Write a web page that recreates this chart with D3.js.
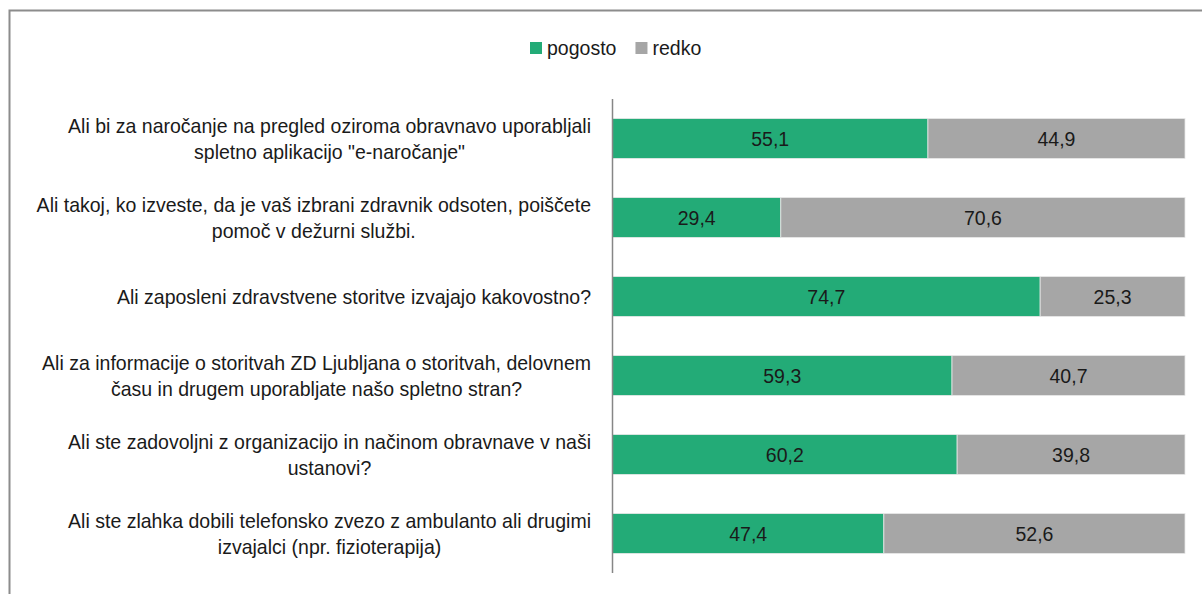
<!DOCTYPE html>
<html>
<head>
<meta charset="utf-8">
<script src="https://cdn.jsdelivr.net/npm/d3@7"></script>
<style>
  body { margin: 0; background: #fff; }
  svg text { font-family: "Liberation Sans Narrow", "Arial Narrow", "Liberation Sans", sans-serif; }
</style>
</head>
<body>
<div id="chart"></div>
<script>
const questions = [
    ["Ali bi za naročanje na pregled oziroma obravnavo uporabljali", "spletno aplikacijo \"e-naročanje\""],
    ["Ali takoj, ko izveste, da je vaš izbrani zdravnik odsoten, poiščete", "pomoč v dežurni službi."],
    ["Ali zaposleni zdravstvene storitve izvajajo kakovostno?"],
    ["Ali za informacije o storitvah ZD Ljubljana o storitvah, delovnem", "času in drugem uporabljate našo spletno stran?"],
    ["Ali ste zadovoljni z organizacijo in načinom obravnave v naši", "ustanovi?"],
    ["Ali ste zlahka dobili telefonsko zvezo z ambulanto ali drugimi", "izvajalci (npr. fizioterapija)"]
];
const pogosto = [55.1, 29.4, 74.7, 59.3, 60.2, 47.4];
const redko = [44.9, 70.6, 25.3, 40.7, 39.8, 52.6];
const seriesNames = ["pogosto", "redko"];
const seriesColors = ["#23ab77", "#a6a6a6"];

const width = 1202, height = 594;
const fontSize = 21;
const sx = 0.93; // ozka pisava (Arial Narrow ni na voljo)

const svg = d3.select("#chart")
    .append("svg")
    .attr("width", width)
    .attr("height", height);

// okvir
svg.append("rect")
    .attr("x", 9.5).attr("y", 10.5)
    .attr("width", 1200).attr("height", 600)
    .attr("fill", "none")
    .attr("stroke", "#8c8c8c")
    .attr("stroke-width", 2);

function addText(parent, tx, ty, str, anchor) {
    return parent.append("text")
        .attr("transform", `translate(${tx},${ty}) scale(${sx},1)`)
        .attr("text-anchor", anchor || "middle")
        .attr("dominant-baseline", "central")
        .attr("font-size", fontSize)
        .attr("fill", "#1a1a1a")
        .text(str);
}

const x = d3.scaleLinear().domain([0, 100]).range([612.5, 1185]);
const y = d3.scaleBand().domain(d3.range(questions.length)).range([99, 573]).paddingInner(0.495).paddingOuter(0.2475);

const rows = questions.map((q, i) => ({ i, vals: [pogosto[i], redko[i]] }));

// bars
rows.forEach(r => {
    let acc = 0;
    r.vals.forEach((v, s) => {
        const g = svg.append("g");
        g.append("rect")
            .attr("x", x(acc))
            .attr("y", y(r.i))
            .attr("width", x(acc + v) - x(acc))
            .attr("height", y.bandwidth())
            .attr("fill", seriesColors[s])
            .attr("stroke", "#e8e8e8")
            .attr("stroke-width", 0.8);
        addText(g, (x(acc) + x(acc + v)) / 2, y(r.i) + y.bandwidth() / 2,
            d3.format(".1f")(v).replace(".", ","));
        acc += v;
    });
});

// os
svg.append("line")
    .attr("x1", x(0)).attr("x2", x(0))
    .attr("y1", 99).attr("y2", 573)
    .attr("stroke", "#868686")
    .attr("stroke-width", 1.5);

// oznake vprašanj - blok poravnan desno, vrstice sredinsko
const labelRight = 591;
questions.forEach((lines, i) => {
    const cy = y(i) + y.bandwidth() / 2;
    const g = svg.append("g");
    const texts = lines.map(ln => addText(g, 0, 0, ln));
    const w = d3.max(texts, t => t.node().getComputedTextLength()) * sx;
    texts.forEach((t, k) => t.attr("transform",
        `translate(${labelRight - w / 2},${cy + (k - (lines.length - 1) / 2) * 26}) scale(${sx},1)`));
});

// legenda
const legend = svg.append("g");
let lx = 530;
seriesNames.forEach((name, s) => {
    legend.append("rect")
        .attr("x", lx).attr("y", 42)
        .attr("width", 12).attr("height", 12)
        .attr("fill", seriesColors[s]);
    const t = addText(legend, lx + 17, 48, name, "start");
    lx += 17 + t.node().getComputedTextLength() * sx + 19;
});
</script>
</body>
</html>
